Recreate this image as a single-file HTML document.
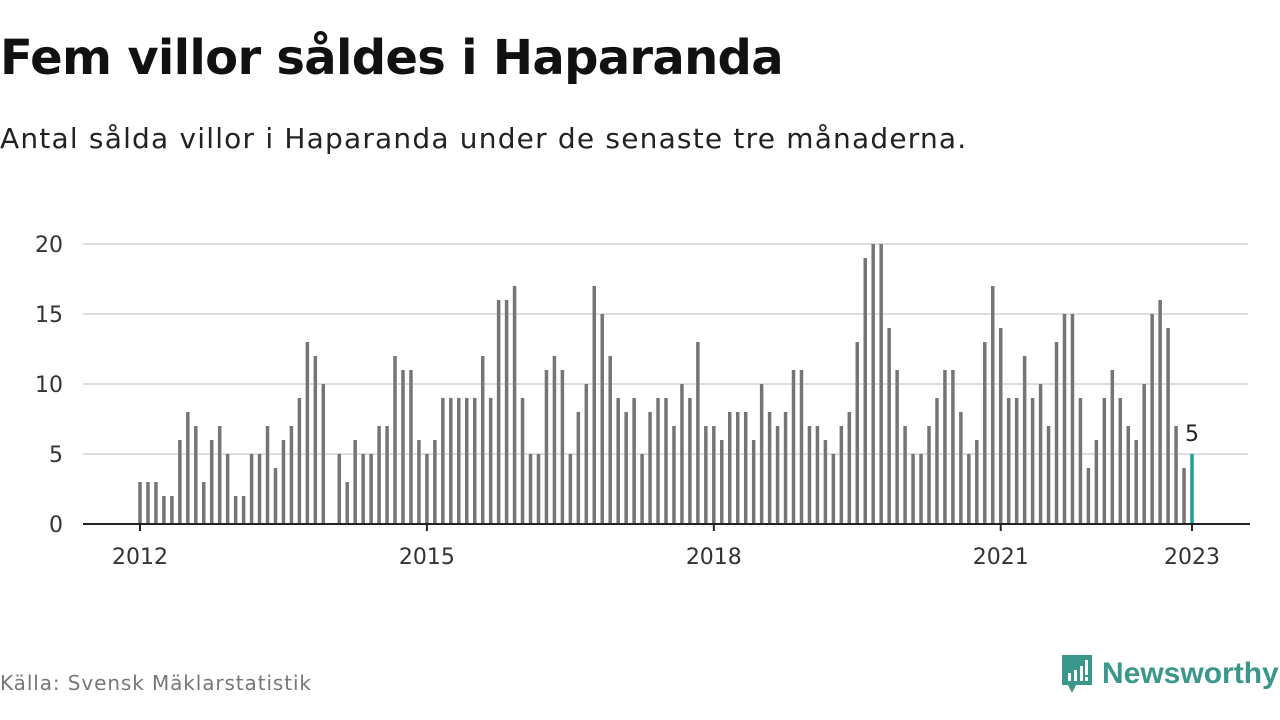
<!DOCTYPE html>
<html><head><meta charset="utf-8"><style>
body{margin:0;width:1280px;height:720px;background:#fff;font-family:"DejaVu Sans",sans-serif;overflow:hidden;position:relative}
h1{position:absolute;left:0;top:30px;margin:0;font-size:48px;font-weight:bold;color:#111;letter-spacing:-0.7px}
.sub{position:absolute;left:0;top:122px;font-size:28px;color:#222;letter-spacing:1.2px}
.src{position:absolute;left:0;top:671px;font-size:20px;color:#777;letter-spacing:0.9px}
.logo{position:absolute;left:1060px;top:653px;display:flex;align-items:center;gap:8px;color:#3a978a;font-size:30px;font-weight:bold;font-family:"Liberation Sans",sans-serif}
</style></head><body>
<h1>Fem villor såldes i Haparanda</h1>
<div class="sub">Antal sålda villor i Haparanda under de senaste tre månaderna.</div>
<svg id="chart" width="1280" height="720" style="position:absolute;left:0;top:0"></svg>
<div class="src">Källa: Svensk Mäklarstatistik</div>
<div class="logo">
<svg width="34" height="42" viewBox="0 0 34 42"><path d="M2 2h30v30H16l-4 8-4-8H2z" fill="#3a978a"/><rect x="8" y="20" width="3" height="8" fill="#fff"/><rect x="14" y="17" width="3" height="11" fill="#fff"/><rect x="20" y="13" width="3" height="15" fill="#fff"/><rect x="25" y="7" width="3" height="15" fill="#fff"/><rect x="25" y="24" width="3" height="4" fill="#fff"/></svg>
<span>Newsworthy</span></div>
<script>
const values=[3,3,3,2,2,6,8,7,3,6,7,5, 2,2,5,5,7,4,6,7,9,13,12,10, 0,5,3,6,5,5,7,7,12,11,11,6, 5,6,9,9,9,9,9,12,9,16,16,17, 9,5,5,11,12,11,5,8,10,17,15,12, 9,8,9,5,8,9,9,7,10,9,13,7, 7,6,8,8,8,6,10,8,7,8,11,11, 7,7,6,5,7,8,13,19,20,20,14,11, 7,5,5,7,9,11,11,8,5,6,13,17, 14,9,9,12,9,10,7,13,15,15,9,4, 6,9,11,9,7,6,10,15,16,14,7,4,5];
const yTicks=[0,5,10,15,20];
const xTickYears=[2012,2015,2018,2021,2023];
const NS="http://www.w3.org/2000/svg";
const svg=document.getElementById('chart');
const x0=140,step=(1192-140)/132,yBase=524,yScale=14;
const xs=i=>x0+i*step, ys=v=>yBase-v*yScale;
function el(t,a){const e=document.createElementNS(NS,t);for(const k in a)e.setAttribute(k,a[k]);svg.appendChild(e);return e;}
yTicks.forEach(t=>{
 if(t>0){const g=el('line',{x1:83,x2:1248,y1:ys(t),y2:ys(t),stroke:'#ddd','stroke-width':2});
 
 }
 const l=el('text',{x:63,y:ys(t)+8,'text-anchor':'end','font-size':22,fill:'#333','font-family':'DejaVu Sans, sans-serif'});
 l.textContent=t;
 
 
});
values.forEach((v,i)=>{
 if(v<=0)return;
 const last=i===values.length-1;
 const r=el('rect',{x:xs(i)-1.75,y:ys(v),width:3.5,height:v*yScale,fill:last?'#1a9e96':'#757575'});
 
 
});
const lv=values.length-1;
const lab=el('text',{x:xs(lv),y:ys(values[lv])-13,'text-anchor':'middle','font-size':22,fill:'#222','font-family':'DejaVu Sans, sans-serif'});
lab.textContent=values[lv];


const ax=el('line',{x1:83,x2:1250,y1:yBase,y2:yBase,stroke:'#222','stroke-width':2});


xTickYears.forEach(yr=>{
 const x=xs((yr-2012)*12);
 const t=el('line',{x1:x,x2:x,y1:yBase,y2:yBase+7,stroke:'#222','stroke-width':2});
 
 
 const l=el('text',{x:x,y:564,'text-anchor':'middle','font-size':22,fill:'#333','font-family':'DejaVu Sans, sans-serif'});
 l.textContent=yr;
 
 
});
</script>
</body></html>
